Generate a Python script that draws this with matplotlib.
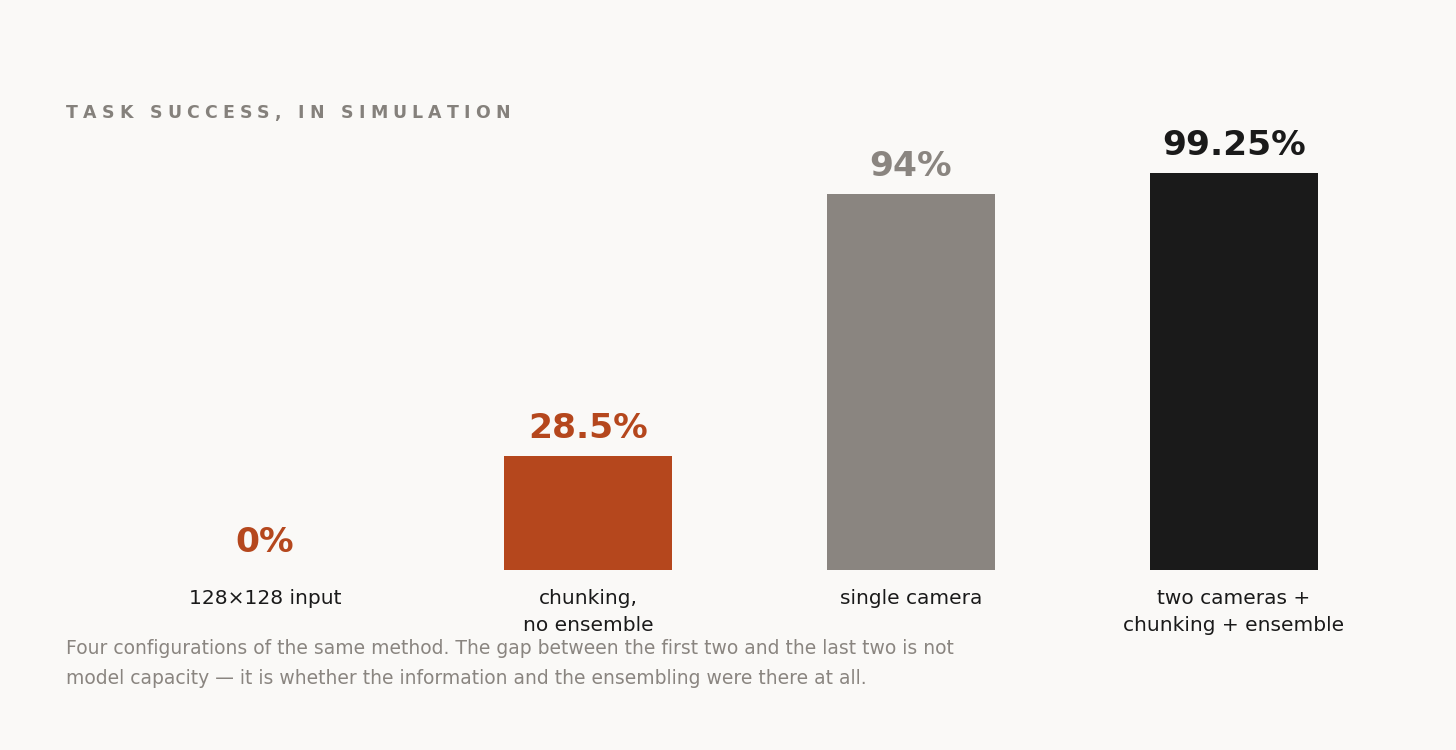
import matplotlib
matplotlib.use("Agg")
import matplotlib.pyplot as plt

categories = ["128×128 input", "chunking,\nno ensemble", "single camera", "two cameras +\nchunking + ensemble"]
values = [0, 28.5, 94, 99.25]
value_labels = ["0%", "28.5%", "94%", "99.25%"]
bar_colors = ["#B5471D", "#B5471D", "#8A8580", "#1A1A1A"]
label_colors = ["#B5471D", "#B5471D", "#8A8580", "#1A1A1A"]
title = "TASK SUCCESS, IN SIMULATION"
caption_lines = ["Four configurations of the same method. The gap between the first two and the last two is not",
                 "model capacity \u2014 it is whether the information and the ensembling were there at all."]

BG = "#FAF9F7"
W, H = 1456, 750
fig = plt.figure(figsize=(W / 100, H / 100), dpi=100, facecolor=BG)
plt.rcParams['font.family'] = ['DejaVu Sans']

# axes: x from 103.5 to 1395.5 px, y 0 at 570 px
left, right = 103.5, 1395.5
bottom_px, top_px = 570, 130
ax = fig.add_axes([left / W, 1 - bottom_px / H, (right - left) / W, (bottom_px - top_px) / H])
ax.set_facecolor(BG)
x = list(range(len(categories)))
ax.bar(x, values, width=0.52, color=bar_colors)
ax.set_xlim(-0.5, 3.5)
ax.set_ylim(0, 110)
for s in ax.spines.values():
    s.set_visible(False)
ax.set_yticks([])
ax.set_xticks(x)
ax.set_xticklabels(categories, fontsize=14.5, color="#1A1A1A", linespacing=1.52)
ax.tick_params(axis='x', length=0, pad=14)

for xi, v, lab, c in zip(x, values, value_labels, label_colors):
    ax.annotate(lab, (xi, v), xytext=(0, 12.8), textcoords='offset points',
                ha='center', va='baseline', fontsize=24.8, fontweight='bold', color=c)

# letter-spaced title
fig.canvas.draw()
renderer = fig.canvas.get_renderer()
cx = 66
tracking = 5.15
for ch in title:
    if ch == " ":
        cx += 6.4 + tracking
        continue
    t = fig.text(cx / W, 1 - 118 / H, ch, fontsize=12.5, fontweight='bold', color="#85817C",
                 ha='left', va='baseline')
    bb = t.get_window_extent(renderer)
    cx += bb.width + tracking

for i, line in enumerate(caption_lines):
    fig.text(66 / W, 1 - (648 + 30 * i) / H, line, fontsize=13.5, color="#8A8580",
             ha='left', va='center')

fig.savefig("out.png", dpi=100, facecolor=BG)
